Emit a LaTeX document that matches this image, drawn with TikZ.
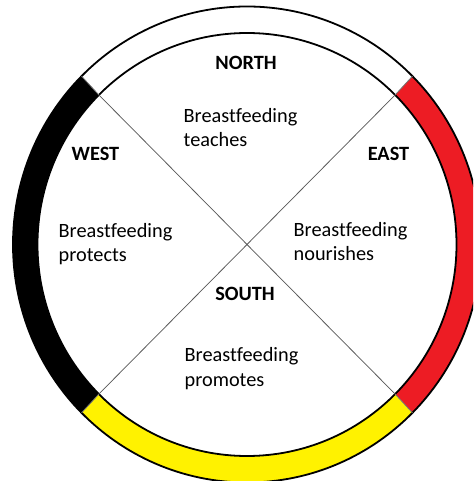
\documentclass[tikz,border=0pt]{standalone}
\usepackage{fontspec}
\setmainfont[Ligatures=NoCommon]{Carlito}
\usetikzlibrary{calc}
\definecolor{ringred}{RGB}{237,28,36}
\definecolor{ringyellow}{RGB}{255,242,0}
\tikzset{
  lbl/.style={font=\fontsize{20.3}{24.4}\selectfont\bfseries, inner sep=0pt, anchor=base},
  txt/.style={font=\fontsize{20.3}{24.4}\selectfont, inner sep=0pt, anchor=base west, align=left},
  rim/.style={draw=black, line width=1.8pt},
  sep/.style={draw=black!55, line width=0.8pt},
  diag/.style={draw=black!65, line width=0.75pt}
}
\begin{document}
\begin{tikzpicture}[x=1pt,y=-1pt]
\path[use as bounding box] (0,0) rectangle (473,481);
\clip (0,0) rectangle (473,481);
\fill[white] (0,0) rectangle (473,481);
\coordinate (C) at (247,244.5);
\def\ax{234}\def\ay{238}\def\bx{209.5}\def\by{211.5}
% bands
\fill[ringred] ($(C)+(315:\ax\space and \ay)$) arc[start angle=315, end angle=405, x radius=\ax, y radius=\ay]
  -- ($(C)+(45:\bx\space and \by)$) arc[start angle=45, end angle=-45, x radius=\bx, y radius=\by] -- cycle;
\fill[ringyellow] ($(C)+(45:\ax\space and \ay)$) arc[start angle=45, end angle=135, x radius=\ax, y radius=\ay]
  -- ($(C)+(135:\bx\space and \by)$) arc[start angle=135, end angle=45, x radius=\bx, y radius=\by] -- cycle;
\fill[black] ($(C)+(135:\ax\space and \ay)$) arc[start angle=135, end angle=225, x radius=\ax, y radius=\ay]
  -- ($(C)+(225:\bx\space and \by)$) arc[start angle=225, end angle=135, x radius=\bx, y radius=\by] -- cycle;
% rims
\draw[rim] (C) ellipse[x radius=\ax, y radius=\ay];
\draw[rim] (C) ellipse[x radius=\bx, y radius=\by];
% separators between bands
\foreach \a/\n in {45/se,135/sw,225/nw,315/ne}{
  \coordinate (o\n) at ($(C)+(\a:\ax\space and \ay)$);
  \coordinate (i\n) at ($(C)+(\a:\bx\space and \by)$);
  \draw[sep] (o\n) -- (i\n);
}
% diagonals
\draw[diag] (inw) -- (ise);
\draw[diag] (ine) -- (isw);
% labels
\node[lbl] (north) at (246,70) {NORTH};
\node[lbl] (west) at (95.5,160.7) {WEST};
\node[lbl] (east) at (388.5,160.7) {EAST};
\node[lbl] (south) at (245,300.7) {SOUTH};
\node[txt] (teach) at (183.5,146.9) {Breastfeeding\\teaches};
\node[txt] (prot) at (58.5,261.7) {Breastfeeding\\protects};
\node[txt] (nour) at (293.5,260.4) {Breastfeeding\\nourishes};
\node[txt] (prom) at (184.5,386.1) {Breastfeeding\\promotes};
\end{tikzpicture}
\end{document}
